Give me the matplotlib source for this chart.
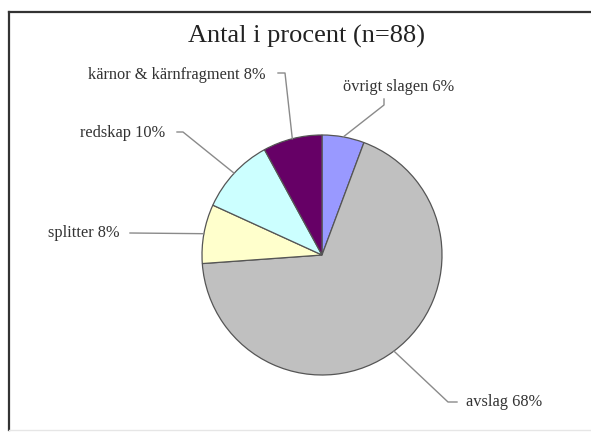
import numpy as np
import matplotlib
matplotlib.use("Agg")
import matplotlib.pyplot as plt
from matplotlib.lines import Line2D

# Data: counts per category (n = 88)
categories = ["övrigt slagen", "avslag", "splitter", "redskap", "kärnor & kärnfragment"]
counts = [5, 60, 7, 9, 7]
percent_labels = ["6%", "68%", "8%", "10%", "8%"]
colors = ["#9999FF", "#C0C0C0", "#FFFFCC", "#CCFFFF", "#660066"]
title = "Antal i procent (n=88)"

W, H = 591, 436
fig = plt.figure(figsize=(W / 100, H / 100), dpi=100)
fig.patch.set_facecolor("white")
ax = fig.add_axes([0, 0, 1, 1])
ax.set_xlim(0, W)
ax.set_ylim(0, H)
ax.set_aspect("equal")
ax.axis("off")

def py(y):
    # pixel row (top-down) to axis y (bottom-up)
    return H - y

cx, cy, r = 322, py(255), 120
wedges, _ = ax.pie(counts, colors=colors, startangle=90, counterclock=False,
                   center=(cx, cy), radius=r, frame=True,
                   wedgeprops=dict(edgecolor="#555555", linewidth=0.9))
ax.set_xlim(0, W)
ax.set_ylim(0, H)
ax.axis("off")

serif = ["Liberation Serif", "DejaVu Serif"]
ax.text(307, py(43), title, ha="center", va="baseline", fontsize=19,
        family=serif, color="#222222")

# Label layout: (text x, text y, ha, leader path points after the wedge anchor)
layout = [
    (343, 87, "left", [(384, 105), (384, 99)]),
    (466, 402, "left", [(448, 402), (457, 402)]),
    (120, 233, "right", [(130, 233)]),
    (165, 133, "right", [(183, 132), (177, 132)]),
    (265, 75, "right", [(285, 73), (278, 73)]),
]

for w, cat, pct, (tx, ty, ha, path) in zip(wedges, categories, percent_labels, layout):
    mid = np.deg2rad((w.theta1 + w.theta2) / 2)
    ex, ey = cx + r * np.cos(mid), cy + r * np.sin(mid)
    xs = [ex] + [p[0] for p in path]
    ys = [ey] + [py(p[1]) for p in path]
    ax.add_line(Line2D(xs, ys, color="#8a8a8a", linewidth=1.0, zorder=1))
    ax.text(tx, py(ty), f"{cat} {pct}", ha=ha, va="center", fontsize=11.8,
            family=serif, color="#333333")

# Chart area frame
fig.add_artist(Line2D([9 / W, 9 / W], [1 - 12 / H, 1 - 430 / H],
                      transform=fig.transFigure, color="#333333", linewidth=1.6))
fig.add_artist(Line2D([9 / W, 1], [1 - 12 / H, 1 - 12 / H],
                      transform=fig.transFigure, color="#333333", linewidth=1.6))
fig.add_artist(Line2D([9 / W, 1], [1 - 430 / H, 1 - 430 / H],
                      transform=fig.transFigure, color="#e6e6e6", linewidth=1.0))

fig.savefig("out.png", dpi=100, facecolor="white")
